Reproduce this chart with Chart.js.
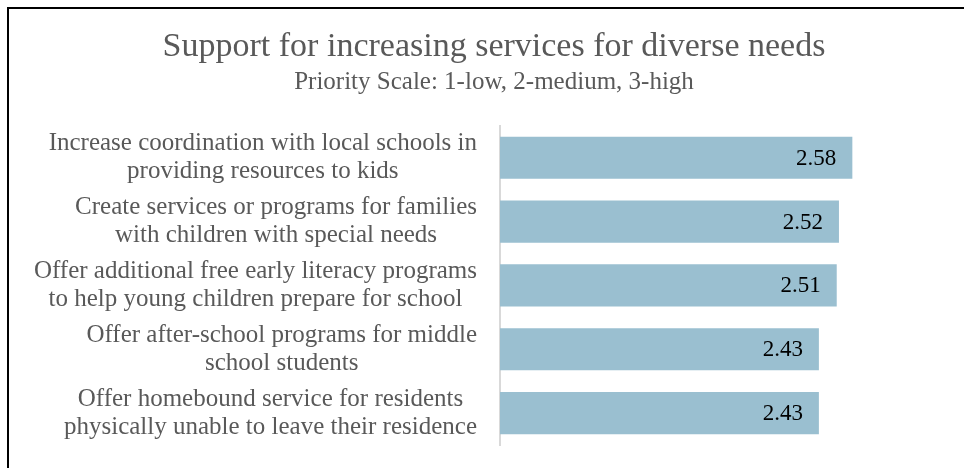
<!DOCTYPE html>
<html lang="en">
<head>
    <meta charset="UTF-8">
    <title>Support for increasing services</title>
    <script src="https://cdn.jsdelivr.net/npm/chart.js"></script>
    <style>
        html, body {
            margin: 0;
            padding: 0;
            background: #fff;
            overflow: hidden;
        }
        .frame {
            position: absolute;
            left: 7px;
            top: 7px;
            width: 990px;
            height: 480px;
            border-top: 2px solid #000;
            border-left: 2px solid #000;
        }
        .chart-box {
            position: absolute;
            left: 0;
            top: 0;
            width: 970px;
            height: 459px;
        }
    </style>
</head>
<body>
    <div class="frame">
        <div class="chart-box">
            <canvas id="myBarChart"></canvas>
        </div>
    </div>

    <script>
        // chart data
        const categories = [
            ['Increase coordination with local schools in', 'providing resources to kids'],
            ['Create services or programs for families', 'with children with special needs'],
            ['Offer additional free early literacy programs', 'to help young children prepare for school'],
            ['Offer after-school programs for middle', 'school students'],
            ['Offer homebound service for residents', 'physically unable to leave their residence']
        ];
        const priorityScores = [2.58, 2.52, 2.51, 2.43, 2.43];
        const scaleMin = 1;
        const scaleMax = 3;

        const serif = "'Liberation Serif', 'DejaVu Serif', serif";
        const labelFont = '25px ' + serif;
        const valueFont = '23px ' + serif;

        // category labels: block right aligned, lines centred inside it
        const categoryLabels = {
            id: 'categoryLabels',
            afterDraw(chart) {
                const ctx = chart.ctx;
                const yScale = chart.scales.y;
                const right = chart.chartArea.left - 23;
                const lineHeight = 28;
                ctx.save();
                ctx.font = labelFont;
                ctx.fillStyle = '#595959';
                ctx.textAlign = 'center';
                ctx.textBaseline = 'middle';
                categories.forEach((lines, i) => {
                    const maxW = Math.max(...lines.map(l => ctx.measureText(l).width));
                    const cx = right - maxW / 2;
                    const cy = yScale.getPixelForValue(i);
                    const top = cy - (lines.length - 1) * lineHeight / 2;
                    lines.forEach((l, j) => ctx.fillText(l, cx, top + j * lineHeight));
                });
                ctx.restore();
            }
        };

        // value labels inside the bar end
        const valueLabels = {
            id: 'valueLabels',
            afterDatasetsDraw(chart) {
                const ctx = chart.ctx;
                const meta = chart.getDatasetMeta(0);
                ctx.save();
                ctx.font = valueFont;
                ctx.fillStyle = '#000';
                ctx.textAlign = 'right';
                ctx.textBaseline = 'middle';
                meta.data.forEach((bar, i) => {
                    ctx.fillText(priorityScores[i].toFixed(2), bar.x - 16, bar.y + 1);
                });
                ctx.restore();
            }
        };

        var ctx = document.getElementById('myBarChart').getContext('2d');
        var myBarChart = new Chart(ctx, {
            type: 'bar',
            data: {
                labels: categories,
                datasets: [{
                    label: 'Priority',
                    data: priorityScores,
                    backgroundColor: '#9abfd0',
                    borderWidth: 0,
                    barPercentage: 1,
                    categoryPercentage: 0.66
                }]
            },
            options: {
                indexAxis: 'y',
                responsive: true,
                maintainAspectRatio: false,
                animation: false,
                devicePixelRatio: 1,
                layout: {
                    padding: { left: 0, right: 0, top: 0, bottom: 23 }
                },
                scales: {
                    x: {
                        display: false,
                        min: scaleMin,
                        max: scaleMax
                    },
                    y: {
                        grid: { display: false },
                        border: { display: true, color: '#d9d9d9', width: 2 },
                        ticks: { display: false },
                        afterFit(scale) {
                            scale.width = 491;
                        }
                    },
                    // empty right axis, keeps space so the title stays centred on the whole box
                    yRight: {
                        type: 'category',
                        position: 'right',
                        grid: { display: false },
                        border: { display: false },
                        ticks: { display: false },
                        afterFit(scale) {
                            scale.width = 33;
                        }
                    }
                },
                plugins: {
                    legend: { display: false },
                    tooltip: { enabled: false },
                    title: {
                        display: true,
                        text: 'Support for increasing services for diverse needs',
                        color: '#595959',
                        font: { family: serif, size: 34, weight: 'normal' },
                        padding: { top: 18, bottom: 0 }
                    },
                    subtitle: {
                        display: true,
                        text: 'Priority Scale: 1-low, 2-medium, 3-high',
                        color: '#595959',
                        font: { family: serif, size: 25, weight: 'normal' },
                        padding: { top: 0, bottom: 28 }
                    }
                }
            },
            plugins: [categoryLabels, valueLabels]
        });
    </script>
</body>
</html>
